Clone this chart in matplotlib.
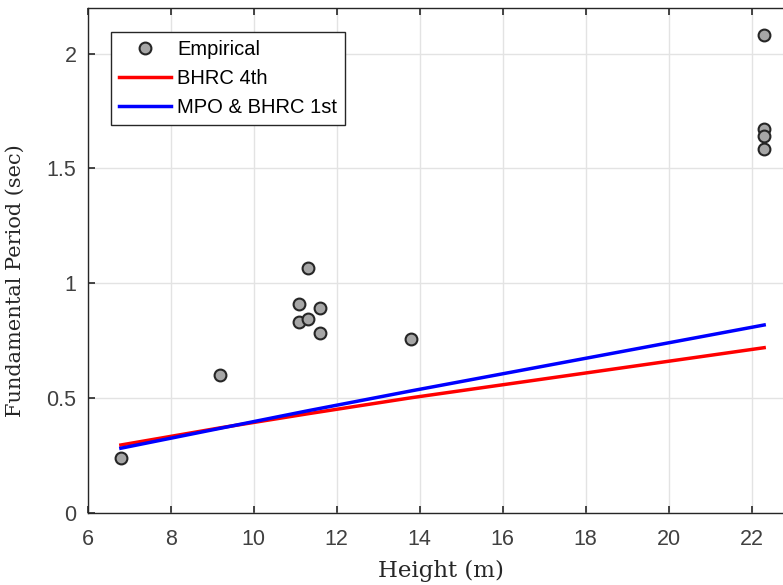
import matplotlib
matplotlib.use("Agg")
import matplotlib.pyplot as plt

# empirical data
height = [6.8, 9.2, 11.1, 11.1, 11.3, 11.3, 11.6, 11.6, 13.8, 22.3, 22.3, 22.3, 22.3]
period = [0.24, 0.60, 0.91, 0.83, 1.065, 0.845, 0.89, 0.785, 0.755, 2.08, 1.67, 1.64, 1.585]

# code formulas (values read at a few heights)
code_h = [6.8, 9.2, 11.3, 13.8, 22.3]
bhrc4 = [0.295, 0.370, 0.431, 0.501, 0.719]
mpo_bhrc1 = [0.281, 0.368, 0.444, 0.531, 0.818]

plt.rcParams['font.family'] = ['Liberation Sans', 'DejaVu Sans']

fig = plt.figure(figsize=(7.83, 5.85), dpi=100)
# axes right edge runs past the figure, like the cropped original
ax = fig.add_axes([87.7 / 783, 72.3 / 585, 705.5 / 783, 504.9 / 585])

ax.plot(height, period, 'o', ms=8.5, mfc='#a6a6a6', mec='#262626', mew=1.5,
        label='Empirical', zorder=3)
ax.plot(code_h, bhrc4, color='#ff0000', lw=2.5, label='BHRC 4th', zorder=2)
ax.plot(code_h, mpo_bhrc1, color='#0000ff', lw=2.5, label='MPO & BHRC 1st', zorder=2)

ax.set_xlim(6, 23)
ax.set_ylim(0, 2.2)
ax.set_xticks([6, 8, 10, 12, 14, 16, 18, 20, 22])
ax.set_yticks([0, 0.5, 1, 1.5, 2])
ax.set_yticklabels(['0', '0.5', '1', '1.5', '2'])

ax.grid(True, color='#e3e3e3', lw=1)
ax.set_axisbelow(True)
for s in ax.spines.values():
    s.set_color('#262626')
    s.set_linewidth(1.0)
ax.tick_params(direction='in', length=5, width=1.2, colors='#262626',
               labelcolor='#404040', labelsize=15.5, top=True, right=True)
ax.tick_params(axis='x', pad=12)
ax.tick_params(axis='y', pad=8)

serif = ['DejaVu Serif', 'Liberation Serif']
ax.set_xlabel('Height (m)', family=serif, fontsize=16.5, color='#262626', labelpad=7)
ax.set_ylabel('Fundamental Period (sec)', family=serif, fontsize=15,
              color='#262626')
ax.yaxis.set_label_coords(-0.089, 0.459)

leg = ax.legend(loc='upper left', bbox_to_anchor=(0.033, 0.952), borderaxespad=0,
                fontsize=14.5, fancybox=False, framealpha=1, edgecolor='#262626',
                handlelength=2.6, handletextpad=0.3, borderpad=0.4,
                labelspacing=0.5)
leg.get_frame().set_linewidth(1.0)

plt.savefig('out.png', dpi=100)
